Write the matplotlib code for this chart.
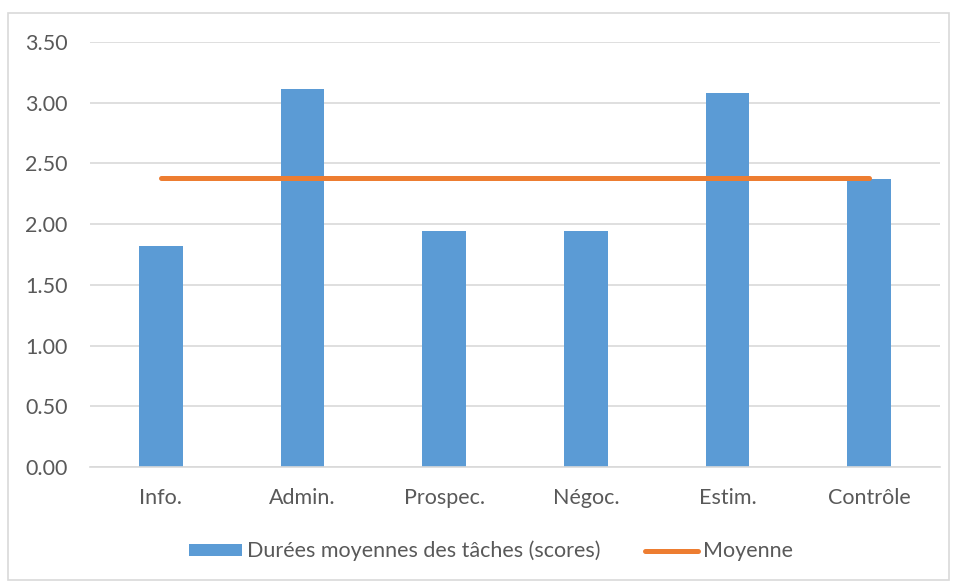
import matplotlib
matplotlib.use("Agg")
from matplotlib import pyplot as plt
from matplotlib.patches import Rectangle

categories = ['Info.', 'Admin.', 'Prospec.', 'Négoc.', 'Estim.', 'Contrôle']
durees = [1.82, 3.11, 1.94, 1.94, 3.08, 2.37]
moyenne = [2.38] * len(categories)
yticks = [0.0, 0.5, 1.0, 1.5, 2.0, 2.5, 3.0, 3.5]

plt.rcParams['font.family'] = ['Lato', 'DejaVu Sans']

fig = plt.figure(figsize=(9.57, 5.81), dpi=100)
ax = fig.add_axes([90 / 957, 1 - 467 / 581, 850 / 957, 425 / 581])

x = list(range(len(categories)))
barres = ax.bar(x, durees, width=0.31, color='#5B9BD5', zorder=2,
                label='Durées moyennes des tâches (scores)')
ligne, = ax.plot(x, moyenne, color='#ED7D31', linewidth=3.6,
                 solid_capstyle='round', zorder=3, label='Moyenne')

ax.set_xlim(-0.5, len(categories) - 0.5)
ax.set_ylim(0, 3.5)
ax.set_yticks(yticks)
ax.set_yticklabels(['%.2f' % v for v in yticks])
ax.set_xticks(x)
ax.set_xticklabels(categories)
ax.tick_params(axis='both', length=0, labelsize=15.5, colors='#595959')
ax.tick_params(axis='y', pad=16)
ax.tick_params(axis='x', pad=15)
ax.grid(axis='y', color='#D9D9D9', linewidth=1.2, zorder=0)
for side in ['top', 'right', 'left']:
    ax.spines[side].set_visible(False)
ax.spines['bottom'].set_color('#D9D9D9')
ax.spines['bottom'].set_linewidth(1.2)

leg = fig.legend([barres, ligne], ['Durées moyennes des tâches (scores)', 'Moyenne'],
                 loc='center', bbox_to_anchor=(491 / 957, 1 - 551 / 581), ncol=2,
                 frameon=False, fontsize=15.5, handlelength=2.45, handleheight=0.47,
                 handletextpad=0.23, columnspacing=2.1)
for t in leg.get_texts():
    t.set_color('#595959')

# cadre du graphique
fig.patches.append(Rectangle((8 / 957, 0.002), 941 / 957, 1 - 13 / 581 - 0.002,
                             transform=fig.transFigure, fill=False,
                             edgecolor='#D9D9D9', linewidth=1.2))

fig.savefig('out.png', dpi=100)
